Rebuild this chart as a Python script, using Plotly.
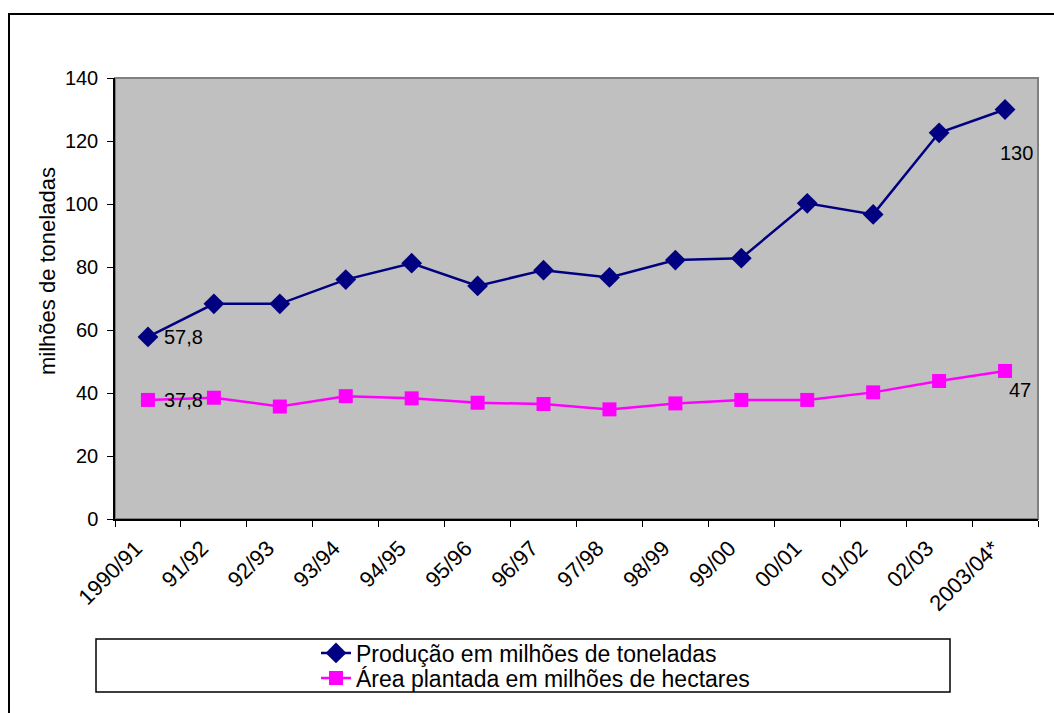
import plotly.graph_objects as go

# Safra data (categories, production and planted area)
safras = ["1990/91", "91/92", "92/93", "93/94", "94/95", "95/96", "96/97",
          "97/98", "98/99", "99/00", "00/01", "01/02", "02/03", "2003/04*"]
producao = [57.8, 68.3, 68.3, 76.0, 81.2, 74.0, 79.0,
            76.7, 82.2, 82.8, 100.2, 96.7, 122.6, 130]
area = [37.8, 38.5, 35.7, 39.0, 38.3, 36.9, 36.5,
        34.8, 36.7, 37.8, 37.8, 40.2, 43.8, 47]

nome_prod = "Produção em milhões de toneladas"
nome_area = "Área plantada em milhões de hectares"
titulo_y = "milhões de toneladas"
y_ticks = [0, 20, 40, 60, 80, 100, 120, 140]

FONT = "Liberation Sans, Arial, sans-serif"
W, H = 1054, 713
L, R, T, B = 115, 1038, 78, 519  # plot area in pixels


def px_x(p):
    return (p - L) / (R - L)


def px_y(p):
    return (B - p) / (B - T)


def fmt(v):
    return f"{v:g}".replace(".", ",")


fig = go.Figure()
fig.add_trace(go.Scatter(
    x=safras, y=producao, name=nome_prod, mode="lines+markers",
    line=dict(color="#000080", width=2.5),
    marker=dict(symbol="diamond", size=16, color="#000080"),
    legend="legend",
))
fig.add_trace(go.Scatter(
    x=safras, y=area, name=nome_area, mode="lines+markers",
    line=dict(color="#FF00FF", width=2.5),
    marker=dict(symbol="square", size=14, color="#FF00FF"),
    legend="legend2",
))

annotations = [
    dict(x=safras[0], y=producao[0], text=fmt(producao[0]), xref="x", yref="y",
         xanchor="left", yanchor="middle", xshift=14, showarrow=False),
    dict(x=safras[0], y=area[0], text=fmt(area[0]), xref="x", yref="y",
         xanchor="left", yanchor="middle", xshift=14, showarrow=False),
    dict(x=safras[-1], y=producao[-1], text=fmt(producao[-1]), xref="x", yref="y",
         xanchor="center", yanchor="middle", xshift=11, yshift=-43, showarrow=False),
    dict(x=safras[-1], y=area[-1], text=fmt(area[-1]), xref="x", yref="y",
         xanchor="center", yanchor="middle", xshift=15, yshift=-19, showarrow=False),
    dict(x=px_x(47), y=px_y(271), xref="paper", yref="paper", text=titulo_y,
         textangle=-90, showarrow=False, xanchor="center", yanchor="middle",
         font=dict(size=22)),
]
for a in annotations[:4]:
    a["font"] = dict(size=20)

shapes = [
    # outer chart frame
    dict(type="rect", xref="paper", yref="paper",
         x0=px_x(9), x1=px_x(1070), y0=px_y(14), y1=px_y(730),
         line=dict(color="black", width=2), fillcolor="rgba(0,0,0,0)"),
    # plot area border
    dict(type="rect", xref="paper", yref="paper", x0=0, x1=1, y0=0, y1=1,
         line=dict(color="#808080", width=2), layer="below"),
    # legend frame
    dict(type="rect", xref="paper", yref="paper",
         x0=px_x(96), x1=px_x(950), y0=px_y(639), y1=px_y(692),
         line=dict(color="black", width=1.5), fillcolor="white"),
]

legend_common = dict(xanchor="left", yanchor="middle", bgcolor="rgba(0,0,0,0)",
                     borderwidth=0, font=dict(size=23), itemwidth=30)

fig.update_layout(
    width=W, height=H,
    margin=dict(l=L, r=W - R, t=T, b=H - B, pad=0, autoexpand=False),
    paper_bgcolor="white", plot_bgcolor="#C0C0C0",
    font=dict(family=FONT, size=20, color="black"),
    showlegend=True,
    legend=dict(x=px_x(316), y=px_y(653), **legend_common),
    legend2=dict(x=px_x(316), y=px_y(678), **legend_common),
    annotations=annotations, shapes=shapes,
)
fig.update_xaxes(
    type="category", range=[-0.5, len(safras) - 0.5], tickson="boundaries",
    ticks="outside", ticklen=6, tickcolor="black", tickwidth=1,
    showline=True, linecolor="black", linewidth=1.5, showgrid=False,
    tickangle=-45, tickfont=dict(size=22), zeroline=False, automargin=False,
    ticklabelstandoff=6, ticklabelshift=-12,
)
fig.update_yaxes(
    range=[0, 140], tickvals=y_ticks, ticks="outside", ticklen=6,
    tickcolor="black", tickwidth=1, showline=True, linecolor="black",
    linewidth=1.5, showgrid=False, zeroline=False, tickfont=dict(size=20),
    automargin=False, ticklabelstandoff=5,
)

fig.write_html("out.html")
